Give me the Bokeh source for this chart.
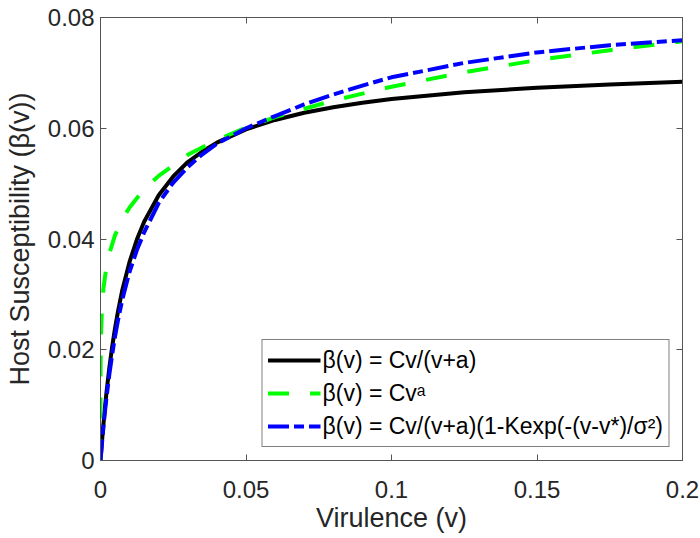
from bokeh.plotting import figure
from bokeh.models import Range1d, FixedTicker, NumeralTickFormatter, LinearAxis, CustomJSTickFormatter
from bokeh.embed import file_html
from bokeh.resources import INLINE

# ---- data ----
v = [0, 0.0005, 0.001, 0.0015, 0.002, 0.003, 0.004, 0.005, 0.006, 0.0075, 0.01,
     0.0125, 0.015, 0.02, 0.025, 0.03, 0.035, 0.04, 0.05, 0.06, 0.07, 0.08, 0.09,
     0.1, 0.125, 0.15, 0.175, 0.2]
beta_sat = [0, 0.0034, 0.0065, 0.0094, 0.0120, 0.0166, 0.0205, 0.0239, 0.0269, 0.0308,
            0.0359, 0.0399, 0.0431, 0.0479, 0.0513, 0.0539, 0.0558, 0.0574, 0.0598,
            0.0615, 0.0628, 0.0638, 0.0646, 0.0653, 0.0665, 0.0673, 0.0679, 0.0684]
beta_trade = [0, 0.0031, 0.0060, 0.0087, 0.0111, 0.0154, 0.0191, 0.0224, 0.0253, 0.0291,
              0.0341, 0.0380, 0.0412, 0.0465, 0.0502, 0.0530, 0.0553, 0.0572, 0.0600,
              0.0622, 0.0643, 0.0661, 0.0677, 0.0692, 0.0718, 0.0737, 0.0750, 0.0759]
v_pow = [0, 0.000001, 0.00001, 0.0001, 0.0005, 0.001, 0.002, 0.003, 0.005, 0.0075, 0.01,
         0.015, 0.02, 0.03, 0.04, 0.05, 0.06, 0.08, 0.1, 0.125, 0.15, 0.175, 0.2]
beta_pow = [0, 0.0097, 0.0143, 0.0210, 0.0276, 0.0310, 0.0349, 0.0373, 0.0407, 0.0436,
            0.0457, 0.0490, 0.0514, 0.0552, 0.0579, 0.0601, 0.0620, 0.0650, 0.0675,
            0.0701, 0.0723, 0.0741, 0.0757]

x_ticks = [0, 0.05, 0.1, 0.15, 0.2]
y_ticks = [0, 0.02, 0.04, 0.06, 0.08]

labels = ["\u03b2(v) = Cv/(v+a)",
          "\u03b2(v) = Cv\u1d43",
          "\u03b2(v) = Cv/(v+a)(1-Kexp(-(v-v*)/\u03c3\u00b2)"]

FONT = "Liberation Sans"
AX_COL = "#555555"
TXT_COL = "#262626"

p = figure(width=700, height=538, output_backend="svg", toolbar_location=None,
           x_range=Range1d(0, 0.2), y_range=Range1d(0, 0.08),
           min_border_left=100, min_border_right=18, min_border_top=17, min_border_bottom=78,
           background_fill_color="white", border_fill_color="white")
p.grid.visible = False
p.outline_line_color = AX_COL
p.outline_line_width = 1

p.line(v, beta_sat, line_color="black", line_width=4, legend_label=labels[0])
p.line(v_pow, beta_pow, line_color="#00ff00", line_width=4, line_dash="21 21",
       legend_label=labels[1])
p.line(v, beta_trade, line_color="#0000ff", line_width=4, line_dash="21 5 10 5",
       legend_label=labels[2])

def style(ax, ticks):
    ax.ticker = FixedTicker(ticks=ticks)
    ax.formatter = NumeralTickFormatter(format="0.[00]")
    ax.axis_line_color = AX_COL
    ax.major_tick_line_color = AX_COL
    ax.major_tick_in = 6
    ax.major_tick_out = 0
    ax.minor_tick_line_color = None
    ax.major_label_text_font = FONT
    ax.major_label_text_font_size = "24px"
    ax.major_label_text_color = TXT_COL
    ax.axis_label_text_font = FONT
    ax.axis_label_text_font_size = "27px"
    ax.axis_label_text_font_style = "normal"
    ax.axis_label_text_color = TXT_COL

style(p.xaxis[0], x_ticks)
style(p.yaxis[0], y_ticks)
p.xaxis[0].axis_label = "Virulence (v)"
p.yaxis[0].axis_label = "Host Susceptibility (\u03b2(v))"
p.xaxis[0].major_label_standoff = 20
p.xaxis[0].axis_label_standoff = 2
p.yaxis[0].major_label_standoff = 6
p.yaxis[0].axis_label_standoff = 10

top = LinearAxis()
right = LinearAxis()
style(top, x_ticks)
style(right, y_ticks)
blank = CustomJSTickFormatter(code="return ''")
top.formatter = blank
right.formatter = blank
top.major_label_standoff = 0
right.major_label_standoff = 0
p.add_layout(top, "above")
p.add_layout(right, "right")

lg = p.legend[0]
lg.location = "bottom_right"
lg.margin = 13
lg.padding = 5
lg.spacing = 3
lg.glyph_width = 53
lg.glyph_height = 30
lg.label_height = 30
lg.label_standoff = 2
lg.label_text_font = FONT
lg.label_text_font_size = "23px"
lg.label_text_color = "black"
lg.border_line_color = "black"
lg.border_line_width = 1
lg.background_fill_color = "white"
lg.background_fill_alpha = 1.0

open("out.html", "w").write(file_html(p, INLINE))
